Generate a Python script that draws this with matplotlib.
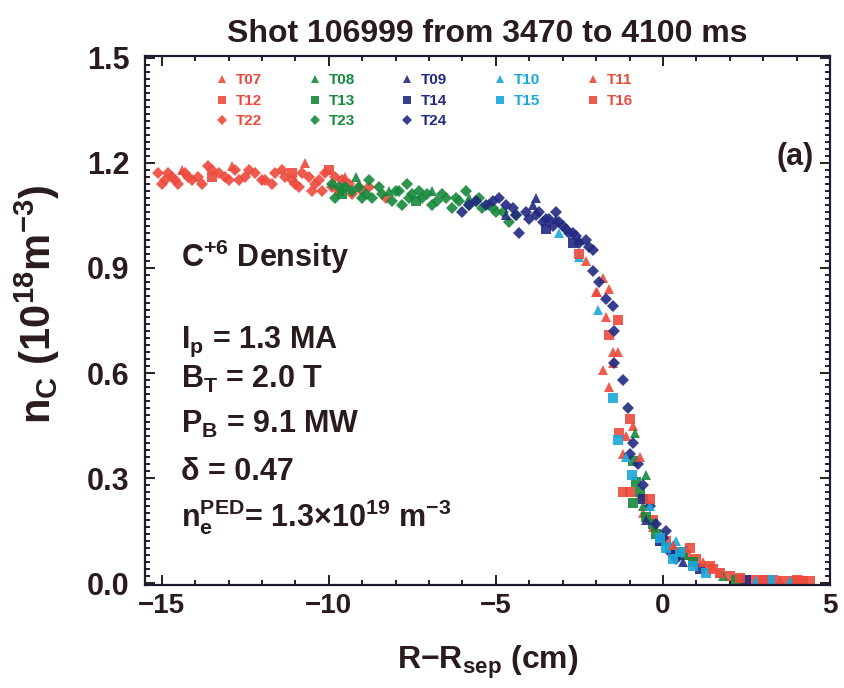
import matplotlib
matplotlib.use("Agg")
import matplotlib.pyplot as plt
from matplotlib import font_manager
from matplotlib.ticker import MultipleLocator

# --- data ---
# red series
t07_x = [-14.4, -12.9, -10.7, -9.5, -9.1, -2.3, -1.8, -1.98, -1.6, -1.7, -1.8, -1.35, -1.6, -1.5,
         -1.2, -1.1, -0.9, -0.7, -0.6, -0.3]
t07_y = [1.18, 1.19, 1.20, 1.16, 1.14, 0.92, 0.87, 0.83, 0.84, 0.76, 0.61, 0.66, 0.56, 0.63,
         0.37, 0.42, 0.45, 0.25, 0.20, 0.16]
t12_x = [-13.5, -11.1, -10.0, -9.7, -1.35, -1.6, -1.0, -1.3, -1.0, -0.3, 0.1, 0.5, 0.7, 1.0, 1.4,
         1.7, 2.0, 2.3, 2.6, 2.9, 3.3, 3.6, 3.9, 4.2, 4.4]
t12_y = [1.16, 1.17, 1.18, 1.12, 0.75, 0.71, 0.47, 0.43, 0.26, 0.18, 0.12, 0.09, 0.08, 0.07, 0.05,
         0.03, 0.02, 0.012, 0.01, 0.01, 0.008, 0.007, 0.006, 0.006, 0.005]
t22_x = [-15.1, -15.0, -14.9, -14.8, -14.7, -14.6, -14.5, -14.3, -14.2, -14.1, -13.9, -13.8, -13.6,
         -13.5, -13.3, -13.1, -13.0, -12.8, -12.7, -12.5, -12.4, -12.2, -12.0, -11.9, -11.7, -11.6,
         -11.4, -11.3, -11.1, -11.0, -10.9, -10.8, -10.6, -10.5, -10.4, -10.3, -10.2, -10.1, -9.9,
         -9.8, -9.6, -9.4, -9.3, -9.0, -8.8, -8.3]
t22_y = [1.17, 1.14, 1.15, 1.17, 1.16, 1.15, 1.14, 1.17, 1.16, 1.15, 1.16, 1.14, 1.19,
         1.18, 1.17, 1.16, 1.15, 1.18, 1.15, 1.16, 1.18, 1.17, 1.15, 1.15, 1.14, 1.17,
         1.18, 1.16, 1.15, 1.14, 1.13, 1.17, 1.16, 1.12, 1.14, 1.15, 1.12, 1.17, 1.13,
         1.16, 1.15, 1.14, 1.11, 1.12, 1.13, 1.10]
t11_x = [-2.0, -1.5, -0.7, 0.3, 1.2, 1.7, 3.5, 4.2]
t11_y = [0.83, 0.66, 0.36, 0.11, 0.06, 0.03, 0.01, 0.01]
t16_x = [-2.5, -1.2, -0.4, 0.8, 1.5, 2.3, 3.0, 4.0]
t16_y = [0.94, 0.26, 0.24, 0.10, 0.04, 0.015, 0.01, 0.008]

# green series
t08_x = [-9.2, -8.2, -6.9, -5.8, -0.84, -0.6, -0.5, 0.0, 0.5, 1.8]
t08_y = [1.16, 1.12, 1.12, 1.10, 0.43, 0.22, 0.31, 0.12, 0.09, 0.02]
t13_x = [-9.6, -7.4, -0.9, -0.8, -0.7, -0.9, -0.5, -0.3, -0.2, 0.2, 0.6, 0.9, 2.2]
t13_y = [1.11, 1.09, 0.35, 0.29, 0.26, 0.23, 0.19, 0.17, 0.14, 0.10, 0.08, 0.06, 0.01]
t23_x = [-9.9, -9.8, -9.7, -9.5, -9.3, -9.1, -9.0, -8.9, -8.8, -8.7, -8.5, -8.4, -8.1, -8.0,
         -7.9, -7.8, -7.66, -7.6, -7.5, -7.3, -7.2, -7.07, -6.9, -6.77, -6.6, -6.5, -6.3, -6.2,
         -6.1, -5.9, -5.8, -5.6, -5.5, -5.4, -5.2, -5.1, -5.0, -4.8, -4.6, -4.4]
t23_y = [1.14, 1.10, 1.13, 1.13, 1.12, 1.13, 1.10, 1.11, 1.15, 1.10, 1.13, 1.11, 1.09, 1.12,
         1.12, 1.08, 1.14, 1.10, 1.11, 1.12, 1.10, 1.11, 1.08, 1.09, 1.11, 1.10, 1.07, 1.10,
         1.09, 1.12, 1.08, 1.09, 1.10, 1.07, 1.08, 1.07, 1.06, 1.06, 1.03, 1.05]

# navy series
t09_x = [-4.7, -3.9, -3.8, -3.2, -2.5, -0.5, 0.6]
t09_y = [1.05, 1.08, 1.10, 1.04, 0.98, 0.18, 0.06]
t14_x = [-3.5, -2.7, -0.6, -0.1, 0.4, 1.1, 2.5]
t14_y = [1.01, 0.97, 0.24, 0.12, 0.08, 0.04, 0.008]
t24_x = [-6.0, -5.8, -5.6, -5.3, -5.1, -4.9, -4.7, -4.5, -4.4, -4.3, -4.1, -4.0, -3.8, -3.7,
         -3.6, -3.5, -3.4, -3.3, -3.2, -3.1, -3.0, -2.9, -2.8, -2.7, -2.6, -2.5, -2.3, -2.2,
         -2.1, -2.1, -1.9, -1.7, -1.5, -1.45, -1.45, -1.2, -1.05, -1.0, -0.9, -0.75, -0.6,
         -0.4, -0.2, 0.0, 0.1, 0.2, 0.4]
t24_y = [1.06, 1.08, 1.09, 1.08, 1.09, 1.10, 1.08, 1.07, 1.05, 1.00, 1.06, 1.04, 1.05, 1.06,
         1.03, 1.04, 1.04, 1.02, 1.06, 1.03, 1.02, 1.01, 1.00, 1.00, 0.99, 0.97, 0.98, 0.96,
         0.95, 0.89, 0.86, 0.81, 0.79, 0.72, 0.63, 0.58, 0.50, 0.37, 0.40, 0.34, 0.28,
         0.22, 0.17, 0.13, 0.15, 0.09, 0.07]

# cyan series
t10_x = [-3.1, -2.5, -1.95, -1.1, -0.4, 0.2, 0.4, 0.7, 2.8, 3.8]
t10_y = [1.00, 0.93, 0.78, 0.36, 0.22, 0.11, 0.12, 0.10, 0.006, 0.005]
t15_x = [-1.5, -1.35, -0.93, -0.1, 0.1, 0.3, 0.5, 0.9, 1.3, 3.2]
t15_y = [0.53, 0.41, 0.31, 0.13, 0.10, 0.07, 0.09, 0.05, 0.03, 0.008]

RED = '#ec4a3c'
GREEN = '#17883c'
NAVY = '#222a82'
CYAN = '#1aa8dc'
INK = '#2a1c1c'

# legend order is column-major: 3, 3, 3, 2, 2 entries
series = [
    ('T07', t07_x, t07_y, RED, '^'),
    ('T12', t12_x, t12_y, RED, 's'),
    ('T22', t22_x, t22_y, RED, 'D'),
    ('T08', t08_x, t08_y, GREEN, '^'),
    ('T13', t13_x, t13_y, GREEN, 's'),
    ('T23', t23_x, t23_y, GREEN, 'D'),
    ('T09', t09_x, t09_y, NAVY, '^'),
    ('T14', t14_x, t14_y, NAVY, 's'),
    ('T24', t24_x, t24_y, NAVY, 'D'),
    ('T10', t10_x, t10_y, CYAN, '^'),
    ('T15', t15_x, t15_y, CYAN, 's'),
    ('T11', t11_x, t11_y, RED, '^'),
    ('T16', t16_x, t16_y, RED, 's'),
]

available = {f.name for f in font_manager.fontManager.ttflist}
font = 'Liberation Sans Narrow' if 'Liberation Sans Narrow' in available else 'Liberation Sans'

plt.rcParams['font.family'] = [font, 'DejaVu Sans']
plt.rcParams['font.weight'] = 'bold'
plt.rcParams['axes.labelweight'] = 'bold'
plt.rcParams['axes.titleweight'] = 'bold'
plt.rcParams['mathtext.fontset'] = 'custom'
plt.rcParams['mathtext.rm'] = font + ':bold'
plt.rcParams['mathtext.it'] = font + ':bold'
plt.rcParams['mathtext.bf'] = font + ':bold'
plt.rcParams['mathtext.default'] = 'rm'
plt.rcParams['text.color'] = INK
plt.rcParams['axes.labelcolor'] = INK
plt.rcParams['xtick.color'] = INK
plt.rcParams['ytick.color'] = INK

fig = plt.figure(figsize=(8.44, 6.88), dpi=100)
ax = fig.add_axes([145 / 844, 1 - 585 / 688, 685 / 844, 529 / 688])

for label, xs, ys, color, marker in series:
    ms = 5.8 if marker == 'D' else 6.8
    ax.plot(xs, ys, linestyle='none', marker=marker, color=color, markersize=ms,
            markeredgewidth=0, alpha=0.9, label=label)

ax.set_xlim(-15.5, 5)
ax.set_ylim(-0.005, 1.505)
ax.xaxis.set_major_locator(MultipleLocator(5))
ax.xaxis.set_minor_locator(MultipleLocator(1))
ax.yaxis.set_major_locator(MultipleLocator(0.3))
ax.yaxis.set_minor_locator(MultipleLocator(0.02))
ax.yaxis.set_major_formatter(plt.FormatStrFormatter('%.1f'))
ax.tick_params(which='both', direction='in', top=True, right=True, width=1.4)
ax.tick_params(axis='x', labelsize=20, pad=6)
ax.tick_params(axis='y', labelsize=22, pad=11)
ax.tick_params(which='major', length=7)
ax.tick_params(which='minor', length=3.5)
for sp in ax.spines.values():
    sp.set_linewidth(1.6)
    sp.set_color('#1e1a30')

ax.set_title('Shot 106999 from 3470 to 4100 ms', fontsize=23, pad=10)
ax.set_xlabel('R\u2212R$_{sep}$ (cm)', fontsize=23)
ax.set_ylabel('n$_C$ (10$^{18}$m$^{-3}$)', fontsize=30)
ax.xaxis.set_label_coords(0.5, -0.112)
ax.yaxis.set_label_coords(-0.121, 0.53)

leg = ax.legend(ncol=5, loc='upper left', bbox_to_anchor=(0.1036, 0.967), frameon=False,
                fontsize=11, handlelength=0.8, handletextpad=0.5, columnspacing=3.05,
                labelspacing=0.42, borderpad=0, borderaxespad=0, markerscale=0.85,
                labelcolor='markerfacecolor')

ax.text(0.976, 0.794, '(a)', transform=ax.transAxes, ha='right', va='baseline', fontsize=22)
ax.text(0.052, 0.601, 'C$^{+6}$ Density', transform=ax.transAxes, fontsize=22)
params = [
    ('I$_p$ = 1.3 MA', 0.448),
    ('B$_T$ = 2.0 T', 0.372),
    ('P$_B$ = 9.1 MW', 0.287),
    ('\u03b4 = 0.47', 0.198),
    ('n$_e^{PED}$= 1.3\u00d710$^{19}$ m$^{-3}$', 0.110),
]
for txt, yy in params:
    ax.text(0.052, yy, txt, transform=ax.transAxes, fontsize=22, va='baseline')

fig.savefig('out.png', dpi=100)
